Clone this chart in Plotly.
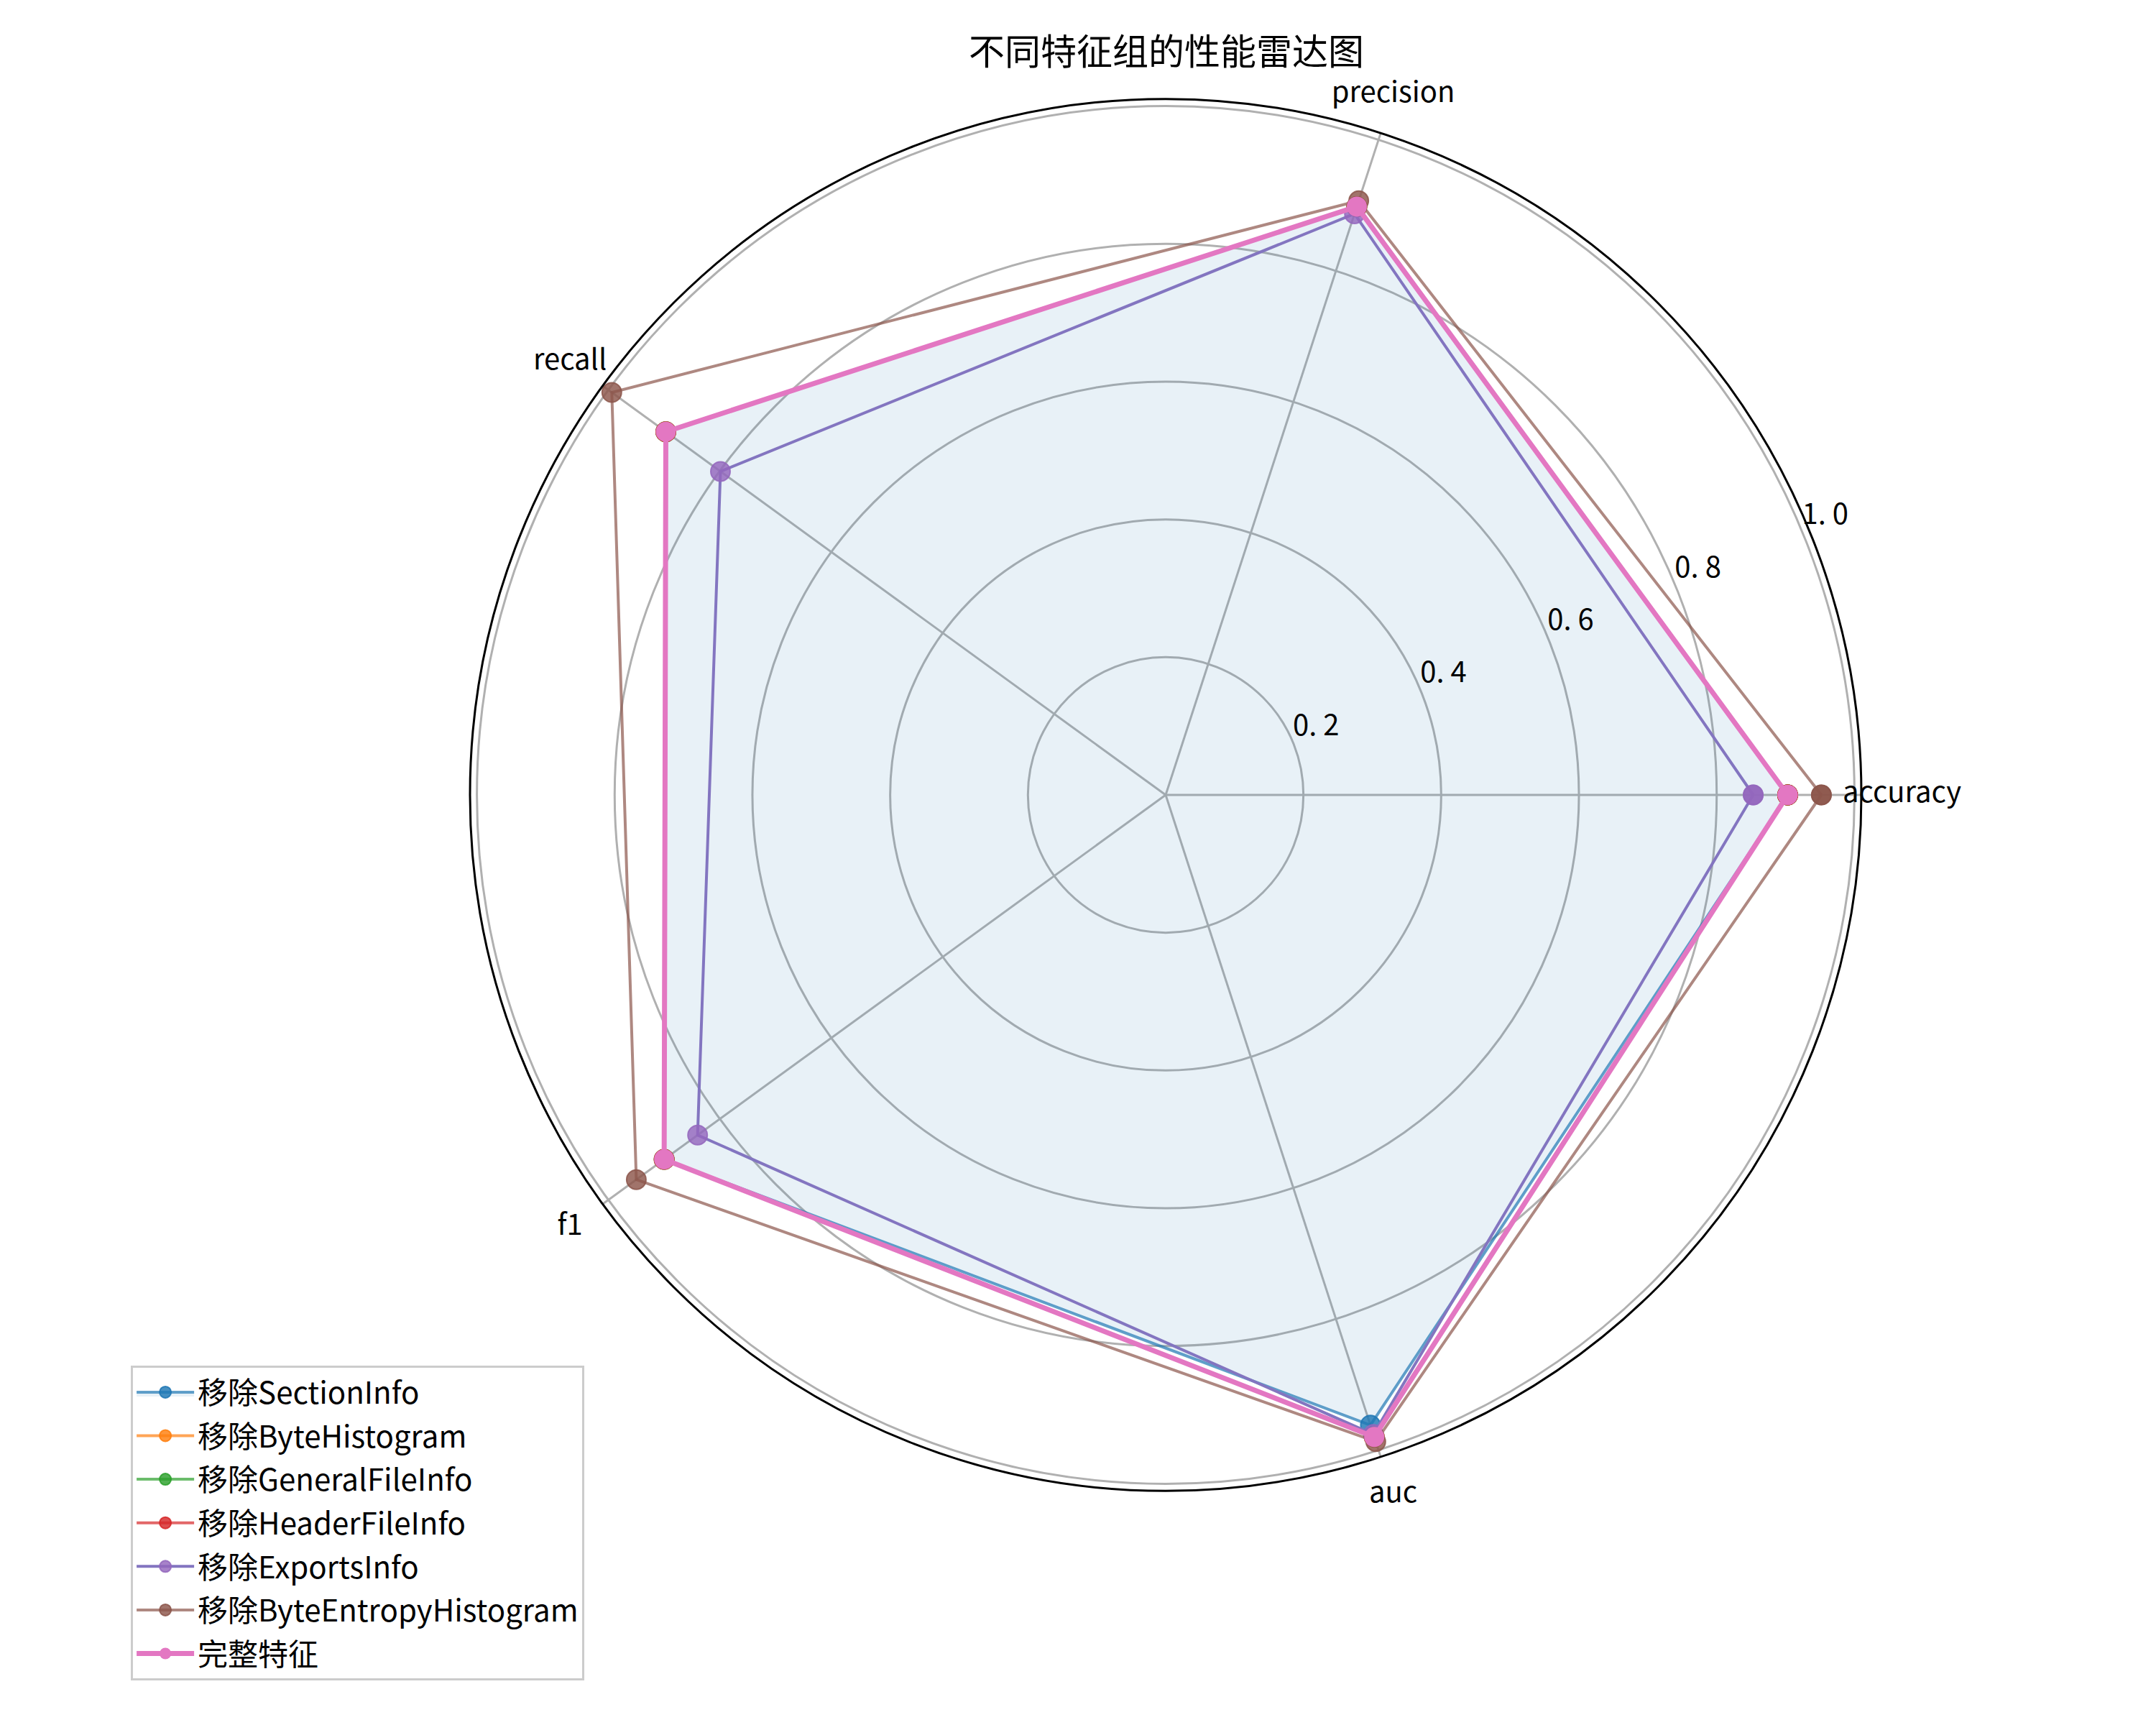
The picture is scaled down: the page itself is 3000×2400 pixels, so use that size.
import plotly.graph_objects as go

categories = ["accuracy", "precision", "recall", "f1", "auc"]
category_angles = [0, 72, 144, 216, 288]

series_names = [
    "移除SectionInfo",
    "移除ByteHistogram",
    "移除GeneralFileInfo",
    "移除HeaderFileInfo",
    "移除ExportsInfo",
    "移除ByteEntropyHistogram",
]
section_info = [0.903, 0.898, 0.897, 0.900, 0.962]
byte_histogram = [0.903, 0.898, 0.897, 0.900, 0.980]
general_file_info = [0.903, 0.898, 0.897, 0.900, 0.980]
header_file_info = [0.903, 0.898, 0.897, 0.900, 0.980]
exports_info = [0.853, 0.887, 0.799, 0.840, 0.976]
byte_entropy_histogram = [0.952, 0.907, 0.994, 0.950, 0.987]
series_values = [section_info, byte_histogram, general_file_info,
                 header_file_info, exports_info, byte_entropy_histogram]

full_name = "完整特征"
full_features = [0.903, 0.898, 0.897, 0.900, 0.980]

radial_ticks = [0.2, 0.4, 0.6, 0.8, 1.0]
radial_tick_text = ["0. 2", "0. 4", "0. 6", "0. 8", "1. 0"]
radial_label_angle = 22.5
category_label_radius = 1.069

colors_rgb = [(31, 119, 180), (255, 127, 14), (44, 160, 44), (214, 39, 40),
              (148, 103, 189), (140, 86, 75)]
line_colors = [
    "rgba(31,119,180,0.7)",
    "rgba(255,127,14,0.7)",
    "rgba(44,160,44,0.7)",
    "rgba(214,39,40,0.7)",
    "rgb(131,117,192)",
    "rgba(140,86,75,0.7)",
]
full_color = "#e377c2"

FONT = "Noto Sans CJK SC, SimHei, sans-serif"
R_MAX = 1.01
R_MAX_LABELS = 1.12

W, H = 3000, 2400
CX, CY = 1622.0, 1294.0      # polar centre in px (from left, from bottom)
R_PX = 968.0                 # outer circle radius in px (at R_MAX)

def domain_for(rmax):
    rad = R_PX * rmax / R_MAX
    return dict(x=[(CX - rad) / W, (CX + rad) / W],
                y=[(CY - rad) / H, (CY + rad) / H])

fig = go.Figure()

theta_closed = categories + [categories[0]]

for i, (name, vals) in enumerate(zip(series_names, series_values)):
    r, g, b = colors_rgb[i]
    fig.add_trace(go.Scatterpolar(
        r=vals + [vals[0]],
        theta=theta_closed,
        mode="lines+markers",
        name=name,
        legendgroup=f"g{i}",
        line=dict(color=line_colors[i], width=4),
        marker=dict(size=27, color=f"rgba({r},{g},{b},0.82)",
                    line=dict(color=f"rgba({r},{g},{b},0.85)", width=2)),
        fill="toself" if i == 0 else "none",
        fillcolor=f"rgba({r},{g},{b},0.1)",
    ))

fig.add_trace(go.Scatterpolar(
    r=full_features + [full_features[0]],
    theta=theta_closed,
    mode="lines+markers",
    name=full_name,
    legendgroup="gfull",
    line=dict(color=full_color, width=7),
    marker=dict(size=28, color=full_color),
))

# radial tick labels, placed like matplotlib (left/bottom anchored at the tick point)
fig.add_trace(go.Scatterpolar(
    r=radial_ticks,
    theta=[radial_label_angle] * len(radial_ticks),
    mode="text",
    text=radial_tick_text,
    textposition="top right",
    textfont=dict(family=FONT, size=40, color="black"),
    showlegend=False,
    hoverinfo="skip",
    cliponaxis=False,
    subplot="polar2",
))

# category labels around the circle
fig.add_trace(go.Scatterpolar(
    r=[category_label_radius] * len(categories),
    theta=category_angles,
    mode="text",
    text=categories,
    textposition="middle center",
    textfont=dict(family=FONT, size=40, color="black"),
    showlegend=False,
    hoverinfo="skip",
    cliponaxis=False,
    subplot="polar2",
))

fig.update_layout(
    width=W,
    height=H,
    margin=dict(l=0, r=0, t=0, b=0),
    paper_bgcolor="white",
    plot_bgcolor="white",
    font=dict(family=FONT, size=40, color="black"),
    title=dict(text="不同特征组的性能雷达图", x=0.541, y=0.9696,
               xanchor="center", yanchor="middle",
               font=dict(family=FONT, size=50, color="black")),
    polar=dict(
        domain=domain_for(R_MAX),
        bgcolor="white",
        angularaxis=dict(
            direction="counterclockwise",
            rotation=0,
            showline=True,
            linecolor="black",
            linewidth=3,
            gridcolor="#b0b0b0",
            gridwidth=2.7,
            ticks="",
            showticklabels=False,
        ),
        radialaxis=dict(
            range=[0, R_MAX],
            angle=22.5,
            tickvals=radial_ticks,
            showticklabels=False,
            showline=False,
            ticks="",
            gridcolor="#b0b0b0",
            gridwidth=2.7,
        ),
    ),
    polar2=dict(
        domain=domain_for(R_MAX_LABELS),
        bgcolor="rgba(0,0,0,0)",
        angularaxis=dict(
            direction="counterclockwise",
            rotation=0,
            showline=False,
            showgrid=False,
            showticklabels=False,
            ticks="",
        ),
        radialaxis=dict(
            range=[0, R_MAX_LABELS],
            showline=False,
            showgrid=False,
            showticklabels=False,
            ticks="",
        ),
    ),
    legend=dict(
        x=0.0607, y=0.2083, xanchor="left", yanchor="top",
        bgcolor="white",
        bordercolor="#cccccc",
        borderwidth=3,
        font=dict(family=FONT, size=42, color="black"),
        tracegroupgap=3,
        itemwidth=80,
    ),
    showlegend=True,
)

fig.write_html("out.html")
